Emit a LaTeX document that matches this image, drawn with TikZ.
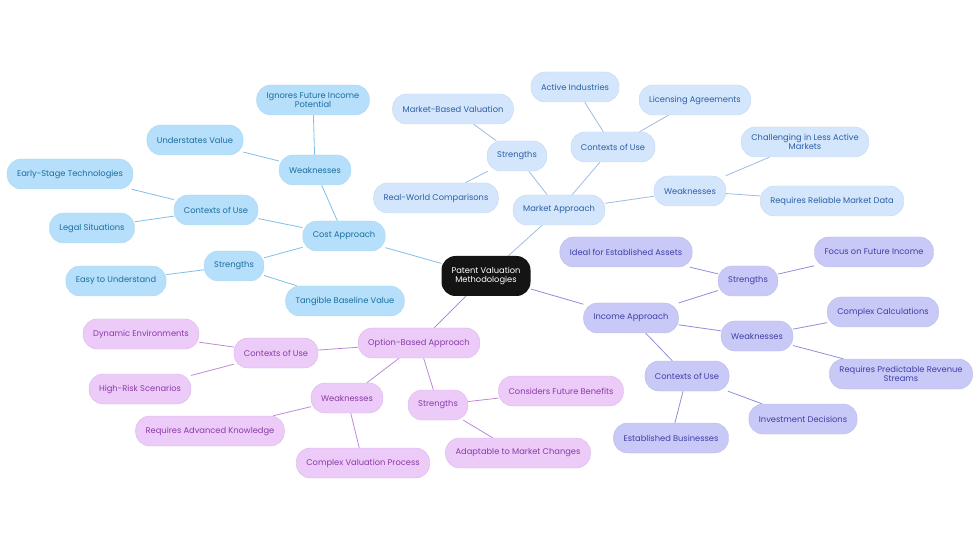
\documentclass[tikz,border=0pt]{standalone}
\usepackage{fontspec}
\setmainfont{Poppins}
\usetikzlibrary{backgrounds}
\definecolor{costfill}{HTML}{B5DFFA}\definecolor{costtext}{HTML}{1C6E9E}\definecolor{costline}{HTML}{7FBFE6}
\definecolor{mktfill}{HTML}{D3E6FB}\definecolor{mkttext}{HTML}{2D5FA6}\definecolor{mktline}{HTML}{9DBCE3}
\definecolor{incfill}{HTML}{C9C9F8}\definecolor{inctext}{HTML}{3F3FA6}\definecolor{incline}{HTML}{8E8EDB}
\definecolor{optfill}{HTML}{ECCBF8}\definecolor{opttext}{HTML}{8A3BA8}\definecolor{optline}{HTML}{BE8AD6}
\tikzset{
  box/.style={rounded corners=14pt, minimum height=30pt, inner xsep=10pt, align=center,
    font=\fontsize{8.3}{9}\selectfont},
  cost/.style={box, fill=costfill, draw=costline!60, text=costtext},
  mkt/.style={box, fill=mktfill, draw=mktline!60, text=mkttext},
  inc/.style={box, fill=incfill, draw=incline!60, text=inctext},
  opt/.style={box, fill=optfill, draw=optline!60, text=opttext},
  cl/.style={costline, line width=0.8pt},
  ml/.style={mktline, line width=0.8pt},
  il/.style={incline, line width=0.8pt},
  ol/.style={optline, line width=0.8pt},
}
\begin{document}
\begin{tikzpicture}[x=1pt,y=-1pt]
\useasboundingbox (0,0) rectangle (980,553);
\node[box, fill=black!92, text=white, minimum height=40pt] (root) at (486,276) {Patent Valuation\\Methodologies};

% cost
\node[cost] (cost) at (344,236) {Cost Approach};
\node[cost] (cw) at (315,170) {Weaknesses};
\node[cost] (cw1) at (313,100) {Ignores Future Income\\Potential};
\node[cost] (cw2) at (195,140) {Understates Value};
\node[cost] (cc) at (216,210) {Contexts of Use};
\node[cost] (cc1) at (70,174) {Early-Stage Technologies};
\node[cost] (cc2) at (92,228) {Legal Situations};
\node[cost] (cs) at (234,266) {Strengths};
\node[cost] (cs1) at (116,281) {Easy to Understand};
\node[cost] (cs2) at (345,301) {Tangible Baseline Value};

% market
\node[mkt] (mkt) at (559,210) {Market Approach};
\node[mkt] (ms) at (517,156) {Strengths};
\node[mkt] (ms1) at (453,109) {Market-Based Valuation};
\node[mkt] (ms2) at (436,198) {Real-World Comparisons};
\node[mkt] (mc) at (613,147) {Contexts of Use};
\node[mkt] (mc1) at (575,87) {Active Industries};
\node[mkt] (mc2) at (695,100) {Licensing Agreements};
\node[mkt] (mw) at (690,191) {Weaknesses};
\node[mkt] (mw1) at (805,142) {Challenging in Less Active\\Markets};
\node[mkt] (mw2) at (832,201) {Requires Reliable Market Data};

% income
\node[inc] (inc) at (631,318) {Income Approach};
\node[inc] (is) at (748,281) {Strengths};
\node[inc] (is1) at (626,252) {Ideal for Established Assets};
\node[inc] (is2) at (874,252) {Focus on Future Income};
\node[inc] (iw) at (757,336) {Weaknesses};
\node[inc] (iw1) at (883,312) {Complex Calculations};
\node[inc] (iw2) at (901,374) {Requires Predictable Revenue\\Streams};
\node[inc] (ic) at (687,376) {Contexts of Use};
\node[inc] (ic1) at (671,438) {Established Businesses};
\node[inc] (ic2) at (803,419) {Investment Decisions};

% option
\node[opt] (opt) at (419,343) {Option-Based Approach};
\node[opt] (oc) at (276,353) {Contexts of Use};
\node[opt] (oc1) at (141,334) {Dynamic Environments};
\node[opt] (oc2) at (140,389) {High-Risk Scenarios};
\node[opt] (ow) at (347,398) {Weaknesses};
\node[opt] (ow1) at (210,431) {Requires Advanced Knowledge};
\node[opt] (ow2) at (363,463) {Complex Valuation Process};
\node[opt] (os) at (438,405) {Strengths};
\node[opt] (os1) at (561,391) {Considers Future Benefits};
\node[opt] (os2) at (518,453) {Adaptable to Market Changes};

\begin{scope}[on background layer]
\draw[cl] (root) -- (cost);
\foreach \a/\b in {cost/cw, cw/cw1, cw/cw2, cost/cc, cc/cc1, cc/cc2, cost/cs, cs/cs1, cs/cs2}
  \draw[cl] (\a) -- (\b);
\draw[ml] (root) -- (mkt);
\foreach \a/\b in {mkt/ms, ms/ms1, ms/ms2, mkt/mc, mc/mc1, mc/mc2, mkt/mw, mw/mw1, mw/mw2}
  \draw[ml] (\a) -- (\b);
\draw[il] (root) -- (inc);
\foreach \a/\b in {inc/is, is/is1, is/is2, inc/iw, iw/iw1, iw/iw2, inc/ic, ic/ic1, ic/ic2}
  \draw[il] (\a) -- (\b);
\draw[ol] (root) -- (opt);
\foreach \a/\b in {opt/oc, oc/oc1, oc/oc2, opt/ow, ow/ow1, ow/ow2, opt/os, os/os1, os/os2}
  \draw[ol] (\a) -- (\b);
\end{scope}
\end{tikzpicture}
\end{document}
